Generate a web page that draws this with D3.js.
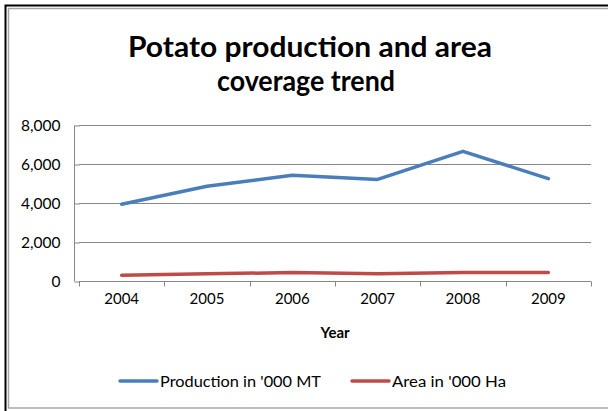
<!DOCTYPE html>
<html><head><meta charset="utf-8">
<script src="https://cdn.jsdelivr.net/npm/d3@7"></script>
<style>body{margin:0;background:#fff}svg{display:block}text{font-family:Lato,"Open Sans",sans-serif;fill:#000}</style>
</head><body>
<script>
const years = ["2004","2005","2006","2007","2008","2009"];
const production = [3940, 4860, 5420, 5210, 6650, 5250];
const area = [300, 370, 430, 370, 430, 430];
const yTicks = [0, 2000, 4000, 6000, 8000];
const seriesNames = ["Production in '000 MT", "Area in '000 Ha"];
const colors = ["#4a7ebb", "#be4b48"];

const W = 608, H = 411;
const svg = d3.select("body").append("svg").attr("width", W).attr("height", H);

// frame
svg.append("rect").attr("x", 8.5).attr("y", 8.5).attr("width", 620).attr("height", 399.5)
  .attr("fill", "none").attr("stroke", "#a6a6a6").attr("stroke-width", 1.5);
svg.append("path").attr("d", "M5.5,412 V5.5 H612").attr("fill", "none").attr("stroke", "#000").attr("stroke-width", 2);

// title
const title = svg.append("text").attr("text-anchor", "middle").attr("font-weight", "bold").attr("font-size", 29);
title.append("tspan").attr("x", 310).attr("y", 57).attr("textLength", 364).attr("lengthAdjust", "spacingAndGlyphs").text("Potato production and area");
title.append("tspan").attr("x", 306).attr("y", 91).attr("textLength", 178).attr("lengthAdjust", "spacingAndGlyphs").text("coverage trend");

const x = d3.scaleBand().domain(years).range([79, 591]);
const y = d3.scaleLinear().domain([0, 8000]).range([281, 125]);

// gridlines
svg.append("g").selectAll("line").data(yTicks.filter(d => d > 0)).join("line")
  .attr("x1", 79).attr("x2", 591).attr("y1", d => Math.round(y(d)) + 0.5).attr("y2", d => Math.round(y(d)) + 0.5)
  .attr("stroke", "#868686").attr("stroke-width", 1);

// y axis
const ya = svg.append("g").attr("transform", "translate(79.5,0.5)")
  .call(d3.axisLeft(y).tickValues(yTicks).tickSize(5).tickPadding(8).tickFormat(d3.format(",")));
ya.select(".domain").attr("stroke", "#868686").attr("d", "M-5,125V281");
ya.selectAll(".tick line").attr("stroke", "#868686");
ya.selectAll(".tick text").attr("font-size", 15.5).attr("font-family", "Lato, sans-serif").attr("fill", "#000").attr("dx", -6);

// x axis
const xa = svg.append("g").attr("transform", "translate(0,281.5)")
  .call(d3.axisBottom(x).tickSize(0).tickPadding(12));
xa.select(".domain").attr("stroke", "#868686").attr("d", "M79,0H591");
xa.selectAll(".tick text").attr("font-size", 15).attr("font-family", "Lato, sans-serif").attr("fill", "#000");
xa.append("g").selectAll("line").data(years.concat(["end"])).join("line")
  .attr("x1", (d, i) => Math.round(79 + i * x.bandwidth()) + 0.5)
  .attr("x2", (d, i) => Math.round(79 + i * x.bandwidth()) + 0.5)
  .attr("y1", 0).attr("y2", 5).attr("stroke", "#868686");

svg.append("text").attr("x", 335).attr("y", 338).attr("text-anchor", "middle")
  .attr("font-weight", "bold").attr("font-size", 15).text("Year");

// lines
const line = d3.line().x((d, i) => x(years[i]) + x.bandwidth() / 2).y(d => y(d));
[production, area].forEach((s, k) => {
  svg.append("path").datum(s).attr("d", line).attr("fill", "none")
    .attr("stroke", colors[k]).attr("stroke-width", 3.5).attr("stroke-linecap", "round").attr("stroke-linejoin", "round");
});

// legend
const legX = [120, 352];
const legW = [161, 114];
seriesNames.forEach((n, k) => {
  svg.append("line").attr("x1", legX[k]).attr("x2", legX[k] + 37).attr("y1", 381).attr("y2", 381)
    .attr("stroke", colors[k]).attr("stroke-width", 3.5).attr("stroke-linecap", "round");
  svg.append("text").attr("x", legX[k] + 40).attr("y", 386.5).attr("font-size", 15.5)
    .attr("textLength", legW[k]).attr("lengthAdjust", "spacingAndGlyphs").text(n);
});
</script>
</body></html>
